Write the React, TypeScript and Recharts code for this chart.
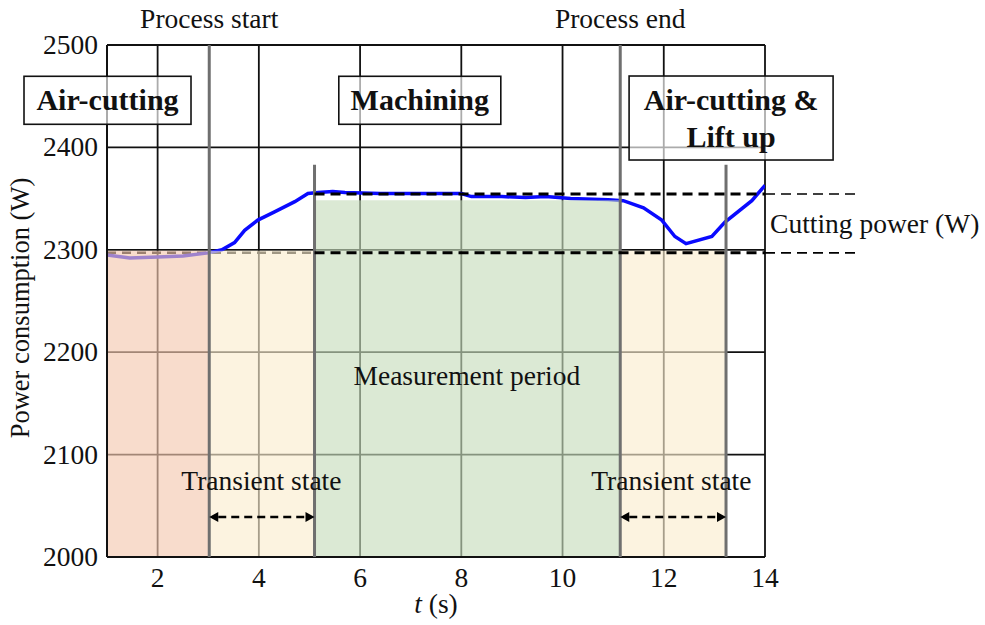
import {
  CartesianGrid,
  Line,
  LineChart,
  ReferenceArea,
  ReferenceDot,
  ReferenceLine,
  XAxis,
  YAxis,
} from "recharts";

// measured power trace
const timeS = [
  1.0, 1.45, 2.0, 2.5, 3.0, 3.27, 3.52, 3.72, 3.98, 4.31, 4.71, 4.97, 5.17, 5.46, 5.7, 6.4, 7.0, 8.0, 8.2,
  8.8, 9.27, 9.67, 10.16, 10.9, 11.2, 11.6, 11.96, 12.22, 12.44, 12.95, 13.21, 13.74, 14.0,
];
const powerW = [
  2295, 2292, 2293, 2294, 2297, 2300, 2307, 2319, 2329, 2337, 2347, 2355, 2356, 2357, 2356, 2355, 2355, 2355, 2352,
  2352, 2351, 2352, 2350, 2349, 2348, 2341, 2329, 2313, 2306, 2313, 2327, 2348, 2363,
];

const xTicks = [2, 4, 6, 8, 10, 12, 14];
const yTicks = [2000, 2100, 2200, 2300, 2400, 2500];

// phase boundaries (s) and power levels (W)
const processStart = 3.02;
const steadyStart = 5.1;
const processEnd = 11.14;
const liftEnd = 13.23;
const airLevel = 2297;
const cuttingLevel = 2354.5;
const measureTop = 2348.5;

const FONT = "Liberation Serif";
const FS = 27.5;

const data = timeS.map((t, i) => ({ t, p: powerW[i] }));

const XTick = ({ x, y, payload }: any) => (
  <text x={x} y={y + 30} textAnchor="middle" fontFamily={FONT} fontSize={FS} fill="#111">
    {payload.value}
  </text>
);

const YTick = ({ x, y, payload }: any) => (
  <text x={x - 9} y={y + 9} textAnchor="end" fontFamily={FONT} fontSize={FS} fill="#111">
    {payload.value}
  </text>
);

const textShape = (label: string, anchor: "start" | "middle" = "middle") => (p: any) => (
  <text x={p.cx} y={p.cy} textAnchor={anchor} fontFamily={FONT} fontSize={FS} fill="#111">
    {label}
  </text>
);

const boxShape = (lines: string[], w: number, h: number) => (p: any) => {
  const lh = 37;
  const first = p.cy + 10 - ((lines.length - 1) * lh) / 2;
  return (
    <g>
      <rect
        x={p.cx - w / 2}
        y={p.cy - h / 2}
        width={w}
        height={h}
        fill="#fff"
        fillOpacity={0.65}
        stroke="#111"
        strokeWidth={1.6}
      />
      <text textAnchor="middle" fontFamily={FONT} fontWeight="bold" fontSize={30} fill="#111">
        {lines.map((l, i) => (
          <tspan key={i} x={p.cx} y={first + i * lh}>
            {l}
          </tspan>
        ))}
      </text>
    </g>
  );
};

const arrowShape = (p: any) => {
  const { x1, y1, x2, y2 } = p;
  const a = 9;
  const w = 5;
  return (
    <g>
      <line x1={x1 + a} y1={y1} x2={x2 - a} y2={y2} stroke="#000" strokeWidth={2.5} strokeDasharray="8 5" />
      <polygon points={`${x1},${y1} ${x1 + a},${y1 - w} ${x1 + a},${y1 + w}`} fill="#000" />
      <polygon points={`${x2},${y2} ${x2 - a},${y2 - w} ${x2 - a},${y2 + w}`} fill="#000" />
    </g>
  );
};

const YLabel = (props: any) => {
  const vb = props.viewBox;
  const x = vb.x - 18;
  const y = vb.y + vb.height / 2 + 7;
  return (
    <text
      x={x}
      y={y}
      transform={`rotate(-90, ${x}, ${y})`}
      textAnchor="middle"
      fontFamily={FONT}
      fontSize={26.5}
      fill="#111"
    >
      Power consumption (W)
    </text>
  );
};

const XLabel = (props: any) => {
  const vb = props.viewBox;
  return (
    <text x={vb.x + vb.width / 2} y={vb.y + 56} textAnchor="middle" fontFamily={FONT} fontSize={FS} fill="#111">
      <tspan fontStyle="italic">t</tspan> (s)
    </text>
  );
};

const overlay = 0.64;

export default function App() {
  return (
    <div style={{ position: "absolute", left: 0, top: 0, width: 985, height: 625, background: "#fff" }}>
      <LineChart width={985} height={625} data={data} margin={{ top: 45, right: 220, bottom: 28, left: 47 }}>
        <CartesianGrid stroke="#111" strokeWidth={1.8} />
        <XAxis
          dataKey="t"
          type="number"
          domain={[1, 14]}
          ticks={xTicks}
          allowDataOverflow
          height={40}
          tickLine={false}
          tickSize={0}
          tickMargin={0}
          tick={<XTick />}
          axisLine={{ stroke: "#111", strokeWidth: 2 }}
          label={{ content: <XLabel /> }}
        />
        <YAxis
          type="number"
          domain={[2000, 2500]}
          ticks={yTicks}
          allowDataOverflow
          width={60}
          tickLine={false}
          tickSize={0}
          tickMargin={0}
          tick={<YTick />}
          axisLine={{ stroke: "#111", strokeWidth: 2 }}
          label={{ content: <YLabel /> }}
        />
        <ReferenceLine
          segment={[{ x: 1, y: airLevel }, { x: steadyStart, y: airLevel }]}
          stroke="#000"
          strokeWidth={2.5}
          strokeDasharray="9 6"
          ifOverflow="visible"
        />
        <Line
          dataKey="p"
          type="linear"
          stroke="#0a0aff"
          strokeWidth={3.5}
          dot={false}
          activeDot={false}
          isAnimationActive={false}
        />
        <ReferenceArea x1={1} x2={processStart} y1={2000} y2={2299} fill="#f4c8af" fillOpacity={overlay} stroke="none" ifOverflow="visible" zIndex={450} />
        <ReferenceArea x1={processStart} x2={steadyStart} y1={2000} y2={2299} fill="#fbedce" fillOpacity={overlay} stroke="none" ifOverflow="visible" zIndex={450} />
        <ReferenceArea x1={steadyStart} x2={processEnd} y1={2000} y2={measureTop} fill="#c6dcbc" fillOpacity={overlay} stroke="none" ifOverflow="visible" zIndex={450} />
        <ReferenceArea x1={processEnd} x2={liftEnd} y1={2000} y2={2299} fill="#fbedce" fillOpacity={overlay} stroke="none" ifOverflow="visible" zIndex={450} />

        <ReferenceLine segment={[{ x: processStart, y: 2000 }, { x: processStart, y: 2500 }]} stroke="#6f6f6f" strokeWidth={3} ifOverflow="visible" zIndex={600} />
        <ReferenceLine segment={[{ x: steadyStart, y: 2000 }, { x: steadyStart, y: 2383 }]} stroke="#6f6f6f" strokeWidth={3} ifOverflow="visible" zIndex={600} />
        <ReferenceLine segment={[{ x: processEnd, y: 2000 }, { x: processEnd, y: 2500 }]} stroke="#6f6f6f" strokeWidth={3} ifOverflow="visible" zIndex={600} />
        <ReferenceLine segment={[{ x: liftEnd, y: 2000 }, { x: liftEnd, y: 2383 }]} stroke="#6f6f6f" strokeWidth={3} ifOverflow="visible" zIndex={600} />

        <ReferenceLine segment={[{ x: steadyStart, y: airLevel }, { x: 14, y: airLevel }]} stroke="#000" strokeWidth={3} strokeDasharray="10 6" ifOverflow="visible" zIndex={600} />
        <ReferenceLine segment={[{ x: 14, y: airLevel }, { x: 15.85, y: airLevel }]} stroke="#000" strokeWidth={1.6} strokeDasharray="10 6" ifOverflow="visible" zIndex={600} />
        <ReferenceLine segment={[{ x: steadyStart, y: cuttingLevel }, { x: 14, y: cuttingLevel }]} stroke="#000" strokeWidth={3} strokeDasharray="10 6" ifOverflow="visible" zIndex={600} />
        <ReferenceLine segment={[{ x: 14, y: cuttingLevel }, { x: 15.85, y: cuttingLevel }]} stroke="#000" strokeWidth={1.6} strokeDasharray="10 6" ifOverflow="visible" zIndex={600} />

        <ReferenceLine segment={[{ x: processStart, y: 2039 }, { x: steadyStart, y: 2039 }]} shape={arrowShape} ifOverflow="visible" zIndex={600} />
        <ReferenceLine segment={[{ x: processEnd, y: 2039 }, { x: liftEnd, y: 2039 }]} shape={arrowShape} ifOverflow="visible" zIndex={600} />

        <ReferenceDot x={processStart} y={2516.6} r={0} shape={textShape("Process start")} ifOverflow="visible" zIndex={700} />
        <ReferenceDot x={processEnd} y={2516.6} r={0} shape={textShape("Process end")} ifOverflow="visible" zIndex={700} />
        <ReferenceDot x={1.01} y={2446} r={0} shape={boxShape(["Air-cutting"], 167, 48)} ifOverflow="visible" zIndex={700} />
        <ReferenceDot x={7.18} y={2446} r={0} shape={boxShape(["Machining"], 162, 48)} ifOverflow="visible" zIndex={700} />
        <ReferenceDot x={13.33} y={2428.7} r={0} shape={boxShape(["Air-cutting &", "Lift up"], 204, 84)} ifOverflow="visible" zIndex={700} />
        <ReferenceDot x={8.11} y={2168} r={0} shape={textShape("Measurement period")} ifOverflow="visible" zIndex={700} />
        <ReferenceDot x={4.05} y={2065} r={0} shape={textShape("Transient state")} ifOverflow="visible" zIndex={700} />
        <ReferenceDot x={12.15} y={2065} r={0} shape={textShape("Transient state")} ifOverflow="visible" zIndex={700} />
        <ReferenceDot x={14.1} y={2316} r={0} shape={textShape("Cutting power (W)", "start")} ifOverflow="visible" zIndex={700} />
      </LineChart>
    </div>
  );
}
